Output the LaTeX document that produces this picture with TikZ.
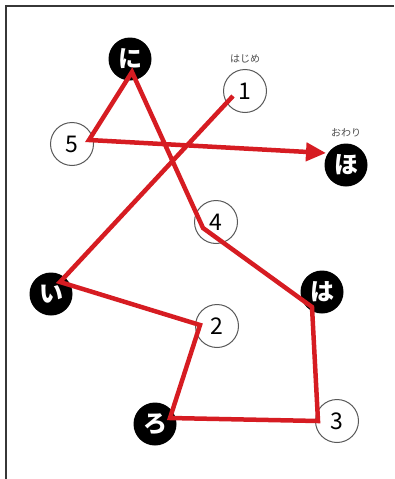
\documentclass[tikz,border=0pt]{standalone}
\usepackage{fontspec}
\newfontfamily\jpfont{Noto Sans CJK JP}
\definecolor{routered}{RGB}{214,28,34}
\definecolor{framegray}{RGB}{55,55,55}
\usetikzlibrary{arrows.meta}
\usetikzlibrary{positioning}

\begin{document}
\begin{tikzpicture}[x=1pt, y=-1pt,
  kana/.style={circle, fill=black, text=white, minimum size=43pt, inner sep=0pt,
    font=\jpfont\bfseries\fontsize{24}{24}\selectfont},
  number/.style={circle, fill=white, draw=black!65, line width=1pt, minimum size=43pt,
    inner sep=0pt, font=\jpfont\fontsize{23}{23}\selectfont},
  note/.style={text=black!70, inner sep=1pt, font=\jpfont\fontsize{10}{10}\selectfont},
  route/.style={draw=routered, line width=4.5pt}]
  \useasboundingbox (0,0) rectangle (394,479);
  \draw[framegray, line width=2pt] (394,6) -- (6,6) -- (6,479);

  % checkpoints
  \node[kana] (ni) at (130,59) {に};
  \node[number] (one) at (245,91) {1};
  \node[note, above=5pt of one] (start) {はじめ};
  \node[number] (five) at (72,144) {5};
  \node[kana] (ho) at (346,165) {ほ};
  \node[note, above=5pt of ho] (goal) {おわり};
  \node[number] (four) at (216,222) {4};
  \node[kana] (i) at (51,294) {い};
  \node[kana] (ha) at (322,292) {は};
  \node[number] (two) at (217,326) {2};
  \node[kana] (ro) at (155,424) {ろ};
  \node[number] (three) at (337,421) {3};

  % the walk from 1 to ho
  \draw[route, -{Triangle[length=20pt,width=18pt]}]
    ([shift={(-12,5)}]one.center) -- ([shift={(9,-12)}]i.center)
    -- ([shift={(-17,-1)}]two.center) -- ([shift={(15,-6)}]ro.center)
    -- ([shift={(-19,0)}]three.center) -- ([shift={(-10,15)}]ha.center)
    -- ([shift={(-13,6)}]four.center) -- ([shift={(2,13)}]ni.center)
    -- ([shift={(17,-4)}]five.center) -- ([shift={(-20,-12)}]ho.center);
\end{tikzpicture}
\end{document}
